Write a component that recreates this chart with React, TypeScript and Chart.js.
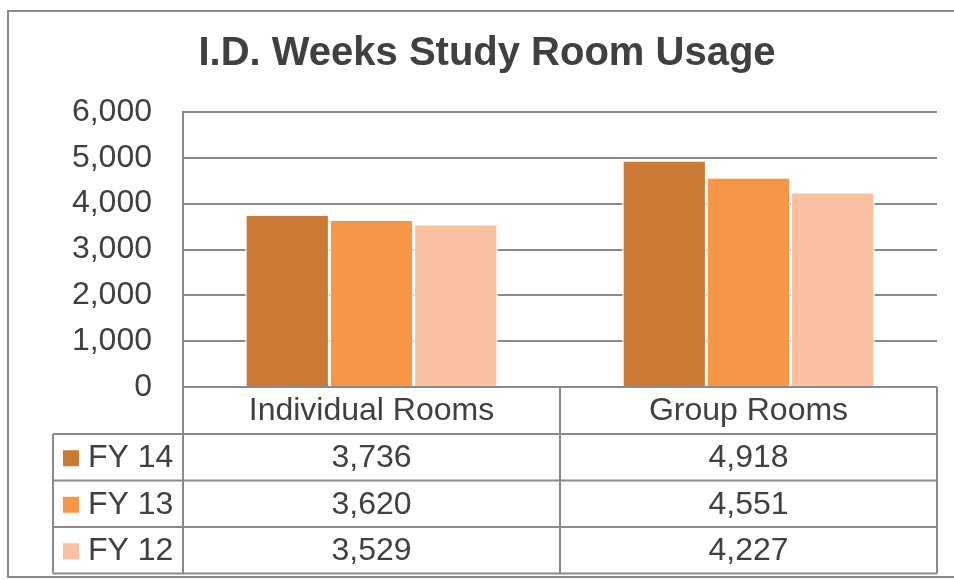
import React, { useEffect, useRef } from "react";
import { Chart, registerables } from "chart.js";

Chart.register(...registerables);

const title = "I.D. Weeks Study Room Usage";
const categories = ["Individual Rooms", "Group Rooms"];
const seriesNames = ["FY 14", "FY 13", "FY 12"];
const fy14 = [3736, 4918];
const fy13 = [3620, 4551];
const fy12 = [3529, 4227];
const seriesColors = ["#CB7A36", "#F79646", "#F9C1A2"];
const yTicks = [0, 1000, 2000, 3000, 4000, 5000, 6000];

const FONT = "'Liberation Sans', Arial, sans-serif";
const TEXT = "#404040";
const LINE = "#8a8a8a";

const tablePlugin = {
  id: "tablePlugin",
  afterDraw(chart: any) {
    const ctx = chart.ctx;
    const area = chart.chartArea;
    const xs = chart.scales.x;
    const seriesData = chart.data.datasets.map((d: any) => d.data);
    ctx.save();
    // outer frame
    ctx.strokeStyle = LINE;
    ctx.lineWidth = 2;
    ctx.strokeRect(8, 11, 970, 566);
    // title
    ctx.fillStyle = TEXT;
    ctx.font = `bold 40px ${FONT}`;
    ctx.textAlign = "center";
    ctx.textBaseline = "middle";
    ctx.fillText(title, 487, 54);

    const left = area.left;
    const right = area.right;
    const top0 = area.bottom;
    const legendLeft = 53;
    const headerH = 47;
    const rowH = 46.5;
    const bottom = top0 + headerH + rowH * seriesNames.length;
    ctx.strokeStyle = LINE;
    ctx.lineWidth = 2;
    ctx.beginPath();
    // left axis extension
    ctx.moveTo(left, top0);
    ctx.lineTo(left, bottom);
    // right border
    ctx.moveTo(right, top0);
    ctx.lineTo(right, bottom);
    // category dividers
    for (let i = 1; i < categories.length; i++) {
      const xd = (xs.getPixelForValue(i - 1) + xs.getPixelForValue(i)) / 2;
      ctx.moveTo(xd, top0);
      ctx.lineTo(xd, bottom);
    }
    // legend column left
    ctx.moveTo(legendLeft, top0 + headerH);
    ctx.lineTo(legendLeft, bottom);
    // row lines
    for (let r = 0; r <= seriesNames.length; r++) {
      const y = top0 + headerH + r * rowH;
      ctx.moveTo(legendLeft, y);
      ctx.lineTo(right, y);
    }
    ctx.stroke();

    ctx.fillStyle = TEXT;
    ctx.font = `32px ${FONT}`;
    ctx.textAlign = "center";
    categories.forEach((c, i) => {
      ctx.fillText(c, xs.getPixelForValue(i), top0 + headerH / 2 + 1);
    });
    seriesNames.forEach((s, r) => {
      const yc = top0 + headerH + r * rowH + rowH / 2 + 1;
      ctx.fillStyle = seriesColors[r];
      ctx.fillRect(63, yc - 8, 16, 16);
      ctx.fillStyle = TEXT;
      ctx.textAlign = "left";
      ctx.fillText(s, 88, yc);
      ctx.textAlign = "center";
      categories.forEach((_, i) => {
        ctx.fillText(Number(seriesData[r][i]).toLocaleString("en-US"), xs.getPixelForValue(i), yc);
      });
    });
    ctx.restore();
  },
};

export default function App() {
  const ref = useRef<HTMLCanvasElement>(null);
  useEffect(() => {
    if (!ref.current) return;
    const values = [fy14, fy13, fy12];
    const chart = new Chart(ref.current, {
      type: "bar",
      data: {
        labels: categories,
        datasets: seriesNames.map((name, i) => ({
          label: name,
          data: values[i],
          backgroundColor: seriesColors[i],
          borderColor: "#ffffff",
          borderWidth: { left: 1.5, right: 1.5, top: 0, bottom: 0 },
          borderSkipped: false,
          barPercentage: 1,
          categoryPercentage: 0.67,
        })),
      },
      options: {
        animation: false,
        responsive: false,
        maintainAspectRatio: false,
        layout: { padding: { left: 0, top: 112, right: 17, bottom: 193 } },
        plugins: {
          legend: { display: false },
          title: { display: false },
          tooltip: { enabled: false },
        },
        scales: {
          x: { display: false },
          y: {
            min: 0,
            max: 6000,
            afterFit: (scale: any) => {
              scale.width = 183;
            },
            afterBuildTicks: (scale: any) => {
              scale.ticks = yTicks.map((v) => ({ value: v }));
            },
            ticks: {
              padding: 31,
              color: TEXT,
              font: { family: FONT, size: 32 },
              callback: (v: any) => Number(v).toLocaleString("en-US"),
            },
            grid: { color: LINE, lineWidth: 2, drawTicks: false },
            border: { display: true, color: LINE, width: 2 },
          },
        },
      },
      plugins: [tablePlugin],
    });
    return () => chart.destroy();
  }, []);
  return (
    <div style={{ position: "fixed", left: 0, top: 0, width: 954, height: 580, background: "#fff" }}>
      <canvas ref={ref} width={954} height={580} style={{ width: 954, height: 580 }} />
    </div>
  );
}
